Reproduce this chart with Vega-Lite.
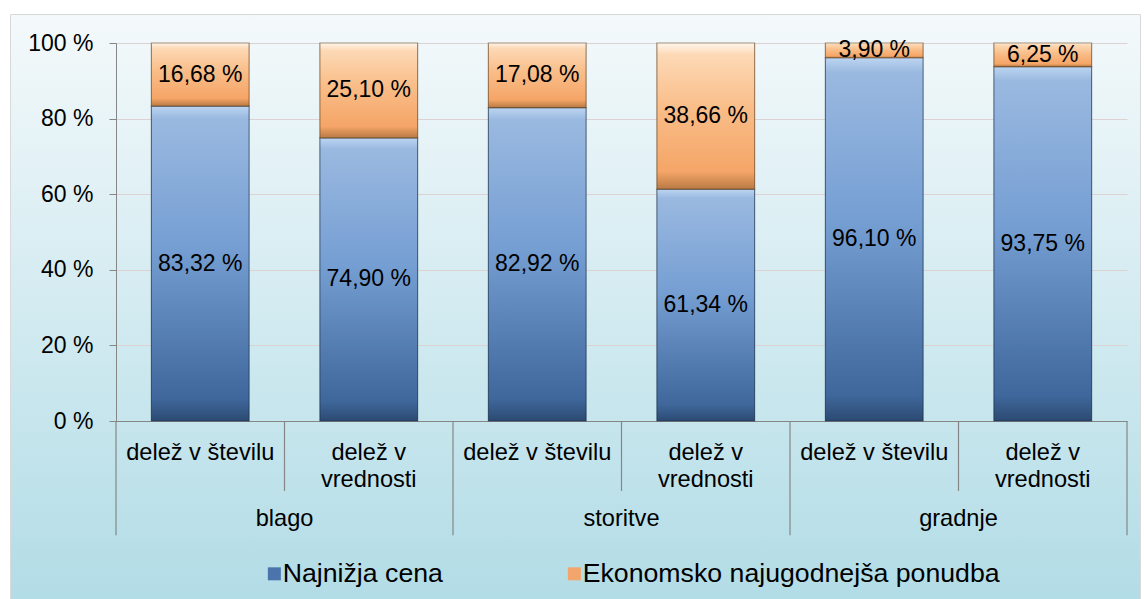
{
  "$schema": "https://vega.github.io/schema/vega-lite/v6.json",
  "autosize": "none",
  "width": 1130,
  "height": 585,
  "padding": {"left": 10, "top": 14, "right": 4, "bottom": 0},
  "background": "white",
  "config": {
    "font": "Liberation Sans",
    "view": {
      "stroke": "#d9d9d9",
      "strokeWidth": 1,
      "fill": {"gradient": "linear", "x1": 0, "y1": 0, "x2": 0, "y2": 1,
        "stops": [{"offset": 0, "color": "#f4f9fb"}, {"offset": 0.5, "color": "#d3ebf1"}, {"offset": 1, "color": "#b2dce6"}]}
    }
  },
  "datasets": {
    "glavni": [
      {"stolpec": "blago: delež v številu", "merilo": "Najnižja cena", "delez": 83.32},
      {"stolpec": "blago: delež v številu", "merilo": "Ekonomsko najugodnejša ponudba", "delez": 16.68},
      {"stolpec": "blago: delež v vrednosti", "merilo": "Najnižja cena", "delez": 74.90},
      {"stolpec": "blago: delež v vrednosti", "merilo": "Ekonomsko najugodnejša ponudba", "delez": 25.10},
      {"stolpec": "storitve: delež v številu", "merilo": "Najnižja cena", "delez": 82.92},
      {"stolpec": "storitve: delež v številu", "merilo": "Ekonomsko najugodnejša ponudba", "delez": 17.08},
      {"stolpec": "storitve: delež v vrednosti", "merilo": "Najnižja cena", "delez": 61.34},
      {"stolpec": "storitve: delež v vrednosti", "merilo": "Ekonomsko najugodnejša ponudba", "delez": 38.66},
      {"stolpec": "gradnje: delež v številu", "merilo": "Najnižja cena", "delez": 96.10},
      {"stolpec": "gradnje: delež v številu", "merilo": "Ekonomsko najugodnejša ponudba", "delez": 3.90},
      {"stolpec": "gradnje: delež v vrednosti", "merilo": "Najnižja cena", "delez": 93.75},
      {"stolpec": "gradnje: delež v vrednosti", "merilo": "Ekonomsko najugodnejša ponudba", "delez": 6.25}
    ],
    "stolpci": [
      {"stolpec": "blago: delež v številu", "skupina": "blago", "kazalnik": "delež v številu"},
      {"stolpec": "blago: delež v vrednosti", "skupina": "blago", "kazalnik": "delež v vrednosti"},
      {"stolpec": "storitve: delež v številu", "skupina": "storitve", "kazalnik": "delež v številu"},
      {"stolpec": "storitve: delež v vrednosti", "skupina": "storitve", "kazalnik": "delež v vrednosti"},
      {"stolpec": "gradnje: delež v številu", "skupina": "gradnje", "kazalnik": "delež v številu"},
      {"stolpec": "gradnje: delež v vrednosti", "skupina": "gradnje", "kazalnik": "delež v vrednosti"}
    ]
  },
  "layer": [
    {
      "data": {"name": "glavni"},
      "transform": [
        {"stack": "delez", "groupby": ["stolpec"], "sort": [{"field": "merilo", "order": "descending"}], "as": ["y0", "y1"]}
      ],
      "mark": {"type": "bar", "width": {"band": 0.58}},
      "encoding": {
        "x": {
          "field": "stolpec", "type": "nominal", "sort": null,
          "scale": {
            "domain": ["blago: delež v številu", "blago: delež v vrednosti", "storitve: delež v številu", "storitve: delež v vrednosti", "gradnje: delež v številu", "gradnje: delež v vrednosti"],
            "range": [106, 1117], "paddingInner": 0, "paddingOuter": 0
          },
          "axis": {
            "title": null, "orient": "bottom", "offset": -178,
            "ticks": false, "tickSize": 0, "domainColor": "#868686", "domainWidth": 1.2,
            "labelAngle": 0, "labelFontSize": 23.6, "labelColor": "#000000", "labelBaseline": "top",
            "labelPadding": 19, "labelLineHeight": 27, "labelLimit": 0, "labelOverlap": false, "labelBound": false,
            "labelExpr": "split(datum.value, ': ')[1] == 'delež v vrednosti' ? ['delež v', 'vrednosti'] : split(datum.value, ': ')[1]"
          }
        },
        "y": {
          "field": "y0", "type": "quantitative",
          "scale": {"domain": [0, 100], "range": [407, 29], "nice": false},
          "axis": {
            "title": null, "orient": "left", "offset": -106,
            "values": [0, 20, 40, 60, 80, 100],
            "labelExpr": "datum.value + ' %'",
            "labelFontSize": 23, "labelColor": "#000000", "labelPadding": 16,
            "tickSize": 7, "tickColor": "#868686", "domainColor": "#868686",
            "grid": true, "gridColor": "#dcd2d2", "gridWidth": 1
          }
        },
        "y2": {"field": "y1"},
        "fill": {
          "field": "merilo", "type": "nominal",
          "scale": {
            "domain": ["Najnižja cena", "Ekonomsko najugodnejša ponudba"],
            "range": ["#4a74ab", "#f2a66b"]
          },
          "legend": {
            "title": null, "orient": "none", "direction": "horizontal",
            "legendX": 251, "legendY": 546,
            "symbolType": "square", "symbolSize": 169, "symbolStrokeWidth": 0,
            "labelFontSize": 26.7, "labelColor": "#000000", "labelOffset": -5, "labelLimit": 600,
            "columnPadding": 118
          }
        }
      }
    },
    {
      "data": {"name": "glavni"},
      "transform": [
        {"stack": "delez", "groupby": ["stolpec"], "sort": [{"field": "merilo", "order": "descending"}], "as": ["y0", "y1"]},
        {"filter": "datum.merilo == 'Najnižja cena'"}
      ],
      "mark": {"type": "bar", "width": {"band": 0.58}, "stroke": "#1a2a40", "strokeOpacity": 0.55, "strokeWidth": 1.2,
        "fill": {"gradient": "linear", "x1": 0, "y1": 0, "x2": 0, "y2": 1,
          "stops": [{"offset": 0, "color": "#bcd5f1"}, {"offset": 0.04, "color": "#9ab9e0"}, {"offset": 0.45, "color": "#759ed3"}, {"offset": 0.93, "color": "#3f679b"}, {"offset": 1, "color": "#2c4a72"}]}},
      "encoding": {
        "x": {"field": "stolpec", "type": "nominal", "sort": null},
        "y": {"field": "y0", "type": "quantitative"},
        "y2": {"field": "y1"}
      }
    },
    {
      "data": {"name": "glavni"},
      "transform": [
        {"stack": "delez", "groupby": ["stolpec"], "sort": [{"field": "merilo", "order": "descending"}], "as": ["y0", "y1"]},
        {"filter": "datum.merilo == 'Ekonomsko najugodnejša ponudba'"}
      ],
      "mark": {"type": "bar", "width": {"band": 0.58}, "stroke": "#5a3a1c", "strokeOpacity": 0.55, "strokeWidth": 1.2,
        "fill": {"gradient": "linear", "x1": 0, "y1": 0, "x2": 0, "y2": 1,
          "stops": [{"offset": 0, "color": "#fff6ec"}, {"offset": 0.08, "color": "#fdd9b6"}, {"offset": 0.45, "color": "#f9bd88"}, {"offset": 0.88, "color": "#f5a567"}, {"offset": 1, "color": "#b87a44"}]}},
      "encoding": {
        "x": {"field": "stolpec", "type": "nominal", "sort": null},
        "y": {"field": "y0", "type": "quantitative"},
        "y2": {"field": "y1"}
      }
    },
    {
      "data": {"name": "glavni"},
      "transform": [
        {"stack": "delez", "groupby": ["stolpec"], "sort": [{"field": "merilo", "order": "descending"}], "as": ["y0", "y1"]},
        {"calculate": "(datum.y0 + datum.y1) / 2", "as": "sredina"},
        {"calculate": "replace(format(datum.delez, '.2f'), '.', ',') + ' %'", "as": "oznaka"}
      ],
      "mark": {"type": "text", "fontSize": 23, "color": "#000000", "align": "center", "baseline": "middle"},
      "encoding": {
        "x": {"field": "stolpec", "type": "nominal", "sort": null},
        "y": {"field": "sredina", "type": "quantitative"},
        "text": {"field": "oznaka", "type": "nominal"}
      }
    },
    {
      "data": {"name": "stolpci"},
      "transform": [{"filter": "datum.kazalnik == 'delež v vrednosti'"}],
      "mark": {"type": "rule", "color": "#868686", "strokeWidth": 1.2},
      "encoding": {
        "x": {"field": "stolpec", "type": "nominal", "sort": null, "bandPosition": 0},
        "y": {"datum": 0},
        "y2": {"datum": -18.5}
      }
    },
    {
      "data": {"name": "stolpci"},
      "transform": [{"filter": "datum.kazalnik == 'delež v številu'"}],
      "mark": {"type": "rule", "color": "#868686", "strokeWidth": 1.2},
      "encoding": {
        "x": {"field": "stolpec", "type": "nominal", "sort": null, "bandPosition": 0},
        "y": {"datum": 0},
        "y2": {"datum": -30.2}
      }
    },
    {
      "data": {"name": "stolpci"},
      "transform": [{"filter": "datum.stolpec == 'gradnje: delež v vrednosti'"}],
      "mark": {"type": "rule", "color": "#868686", "strokeWidth": 1.2},
      "encoding": {
        "x": {"field": "stolpec", "type": "nominal", "sort": null, "bandPosition": 1},
        "y": {"datum": 0},
        "y2": {"datum": -30.2}
      }
    },
    {
      "data": {"name": "stolpci"},
      "transform": [{"filter": "datum.kazalnik == 'delež v številu'"}],
      "mark": {"type": "text", "fontSize": 23.6, "color": "#000000", "align": "center", "baseline": "middle"},
      "encoding": {
        "x": {"field": "stolpec", "type": "nominal", "sort": null, "bandPosition": 1},
        "y": {"datum": -25.9},
        "text": {"field": "skupina", "type": "nominal"}
      }
    }
  ]
}
